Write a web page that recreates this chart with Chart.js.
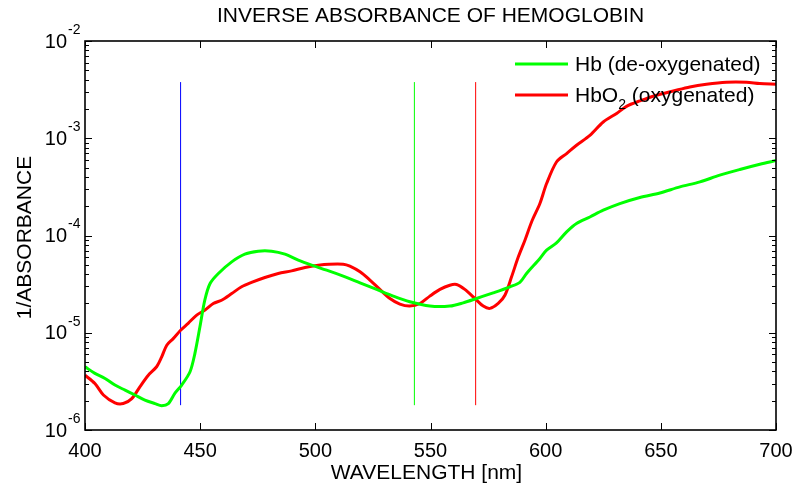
<!DOCTYPE html>
<html>
<head>
<meta charset="utf-8">
<script src="https://cdn.jsdelivr.net/npm/chart.js@4"></script>
<style>
  body { margin: 0; background: #fff; }
  canvas { display: block; }
</style>
</head>
<body>
<canvas id="absorbance" width="792" height="486"></canvas>
<script>
// Hb (de-oxygenated)
const hbWavelength = [400, 404.3, 408.7, 413, 417.4, 421.7, 426, 430.4, 433.3, 436.2, 439, 442, 445.6, 447.7, 449.9, 452, 454.3, 457.9, 463.7, 469.4, 475.2, 481, 486.8, 492.6, 498.4, 504.9, 512.1, 519.4, 526.6, 533.8, 541, 549.7, 558.4, 564.2, 570, 577.2, 584.5, 588.8, 591.7, 597.5, 600.4, 604.7, 609.1, 613.4, 619.2, 625, 632.2, 640.9, 649.6, 658.3, 667, 675.6, 684.3, 693, 700];
const hbValue = [4.47e-6, 3.82e-6, 3.39e-6, 2.9e-6, 2.57e-6, 2.29e-6, 2.03e-6, 1.87e-6, 1.78e-6, 1.87e-6, 2.38e-6, 2.9e-6, 3.97e-6, 6.1e-6, 1.15e-5, 2.16e-5, 3.21e-5, 4.07e-5, 5.36e-5, 6.43e-5, 6.9e-5, 6.9e-5, 6.43e-5, 5.57e-5, 4.95e-5, 4.4e-5, 3.82e-5, 3.26e-5, 2.79e-5, 2.38e-5, 2.08e-5, 1.88e-5, 1.88e-5, 2.03e-5, 2.25e-5, 2.57e-5, 2.97e-5, 3.3e-5, 4.07e-5, 5.8e-5, 7.06e-5, 8.39e-5, 1.09e-4, 1.33e-4, 1.55e-4, 1.82e-4, 2.13e-4, 2.46e-4, 2.74e-4, 3.16e-4, 3.56e-4, 4.17e-4, 4.77e-4, 5.4e-4, 5.9e-4];

// HbO2 (oxygenated)
const hbo2Wavelength = [400, 404.3, 408, 413, 416.6, 420.3, 423.9, 427.5, 431.1, 433.3, 435.5, 438.3, 441.5, 444.8, 448.5, 452.1, 455.7, 459.3, 463.7, 468, 472.3, 478.1, 483.9, 489.7, 495.5, 501.3, 506, 512.1, 515, 519.4, 523.7, 528, 532.4, 536.7, 541, 545.4, 549.7, 554.1, 558.4, 561.3, 564.9, 569.3, 572.9, 575.8, 579.4, 582.3, 585.2, 588.1, 591, 594, 597.5, 600.4, 604.7, 609.1, 613.4, 619.2, 625, 630.8, 635.1, 640.9, 648.1, 655.4, 662.6, 669.8, 678.5, 687.2, 692.9, 700];
const hbo2Value = [3.66e-6, 3.0e-6, 2.29e-6, 1.9e-6, 1.87e-6, 2.1e-6, 2.8e-6, 3.66e-6, 4.47e-6, 5.65e-6, 7.45e-6, 8.7e-6, 1.06e-5, 1.25e-5, 1.52e-5, 1.71e-5, 2.0e-5, 2.16e-5, 2.53e-5, 2.97e-5, 3.29e-5, 3.7e-5, 4.07e-5, 4.33e-5, 4.69e-5, 4.95e-5, 5.07e-5, 5.07e-5, 4.84e-5, 4.23e-5, 3.48e-5, 2.79e-5, 2.25e-5, 1.97e-5, 1.88e-5, 2.0e-5, 2.38e-5, 2.79e-5, 3.08e-5, 3.13e-5, 2.79e-5, 2.25e-5, 1.88e-5, 1.78e-5, 2.0e-5, 2.43e-5, 3.76e-5, 6.0e-5, 8.95e-5, 1.4e-4, 2.13e-4, 3.42e-4, 5.7e-4, 6.96e-4, 8.48e-4, 1.07e-3, 1.47e-3, 1.8e-3, 2.13e-3, 2.42e-3, 2.77e-3, 3.06e-3, 3.37e-3, 3.59e-3, 3.76e-3, 3.76e-3, 3.65e-3, 3.59e-3];

// thin vertical marker lines (wavelength, and the span they cover)
const markerWavelength = [441.5, 543, 569.6];
const markerSpan = [1.8e-6, 3.78e-3];

const xTicks = [400, 450, 500, 550, 600, 650, 700];
const yTickExp = [-6, -5, -4, -3, -2];

const markerColors = ['#0000ff', '#00ff00', '#ff0000'];
const FONT = '"Liberation Sans", Arial, sans-serif';

function pairs(xs, ys) {
    return xs.map((x, i) => ({ x: x, y: ys[i] }));
}

const markerSets = markerWavelength.map((w, i) => ({
    data: markerSpan.map(v => ({ x: w, y: v })),
    borderColor: markerColors[i],
    borderWidth: 1,
    pointRadius: 0,
    tension: 0
}));

const matlabAxes = {
    id: 'matlabAxes',
    afterDatasetsDraw(chart) {
        const ctx = chart.ctx;
        const a = chart.chartArea;
        const xs = chart.scales.x, ys = chart.scales.y;
        ctx.save();
        ctx.strokeStyle = '#000';
        ctx.fillStyle = '#000';

        // ticks, inside on all four sides
        ctx.lineWidth = 1;
        ctx.beginPath();
        xTicks.forEach(t => {
            const px = Math.round(xs.getPixelForValue(t)) + 0.5;
            ctx.moveTo(px, a.bottom); ctx.lineTo(px, a.bottom - 7);
            ctx.moveTo(px, a.top); ctx.lineTo(px, a.top + 7);
        });
        yTickExp.forEach((e, k) => {
            const base = Math.pow(10, e);
            const py = Math.round(ys.getPixelForValue(base)) + 0.5;
            ctx.moveTo(a.left, py); ctx.lineTo(a.left + 7, py);
            ctx.moveTo(a.right, py); ctx.lineTo(a.right - 7, py);
            if (k < yTickExp.length - 1) {
                for (let m = 2; m <= 9; m++) {
                    const pm = Math.round(ys.getPixelForValue(base * m)) + 0.5;
                    ctx.moveTo(a.left, pm); ctx.lineTo(a.left + 4, pm);
                    ctx.moveTo(a.right, pm); ctx.lineTo(a.right - 4, pm);
                }
            }
        });
        ctx.stroke();

        // box
        ctx.lineWidth = 1.6;
        ctx.strokeRect(a.left, a.top, a.right - a.left, a.bottom - a.top);

        // x tick labels
        ctx.font = '20px ' + FONT;
        ctx.textAlign = 'center';
        ctx.textBaseline = 'middle';
        xTicks.forEach(t => ctx.fillText(String(t), xs.getPixelForValue(t), a.bottom + 21));

        // y tick labels 10^n
        yTickExp.forEach(e => {
            const py = ys.getPixelForValue(Math.pow(10, e));
            ctx.font = '20px ' + FONT;
            ctx.textAlign = 'right';
            ctx.fillText('10', 67, py + 1);
            ctx.font = '14px ' + FONT;
            ctx.textAlign = 'left';
            ctx.fillText(String(e), 68, py - 11);
        });

        // titles
        ctx.font = '21px ' + FONT;
        ctx.textAlign = 'center';
        ctx.fillText('INVERSE ABSORBANCE OF HEMOGLOBIN', (a.left + a.right) / 2, 16);
        ctx.fillText('WAVELENGTH [nm]', (a.left + a.right) / 2 - 4, 473);
        ctx.save();
        ctx.translate(25, (a.top + a.bottom) / 2 + 2);
        ctx.rotate(-Math.PI / 2);
        ctx.fillText('1/ABSORBANCE', 0, 0);
        ctx.restore();

        // legend, no box
        const rows = [
            { color: chart.data.datasets[0].borderColor, y: 64, parts: [['Hb (de-oxygenated)', 0]] },
            { color: chart.data.datasets[1].borderColor, y: 95, parts: [['HbO', 0], ['2', 1], [' (oxygenated)', 0]] }
        ];
        rows.forEach(r => {
            ctx.strokeStyle = r.color;
            ctx.lineWidth = 3;
            ctx.beginPath();
            ctx.moveTo(515, r.y); ctx.lineTo(568, r.y);
            ctx.stroke();
            let x = 575;
            ctx.textAlign = 'left';
            r.parts.forEach(([txt, sub]) => {
                ctx.font = (sub ? '14px ' : '21px ') + FONT;
                ctx.fillText(txt, x, r.y + (sub ? 10 : 1));
                x += ctx.measureText(txt).width;
            });
        });
        ctx.restore();
    }
};

new Chart(document.getElementById('absorbance'), {
    type: 'line',
    data: {
        datasets: [
            { label: 'Hb (de-oxygenated)', data: pairs(hbWavelength, hbValue), borderColor: '#00ff00', borderWidth: 3, pointRadius: 0, tension: 0.3 },
            { label: 'HbO2 (oxygenated)', data: pairs(hbo2Wavelength, hbo2Value), borderColor: '#ff0000', borderWidth: 3, pointRadius: 0, tension: 0.3 },
            ...markerSets
        ]
    },
    options: {
        responsive: false,
        animation: false,
        devicePixelRatio: 1,
        layout: { padding: { top: 41, right: 16, left: 0, bottom: 0 } },
        plugins: { legend: { display: false }, tooltip: { enabled: false } },
        scales: {
            x: {
                type: 'linear', min: 400, max: 700,
                grid: { display: false }, border: { display: false },
                ticks: { display: false },
                afterFit: s => { s.height = 56; }
            },
            y: {
                type: 'logarithmic', min: 1e-6, max: 1e-2,
                grid: { display: false }, border: { display: false },
                ticks: { display: false },
                afterFit: s => { s.width = 85; }
            }
        }
    },
    plugins: [matlabAxes]
});
</script>
</body>
</html>
